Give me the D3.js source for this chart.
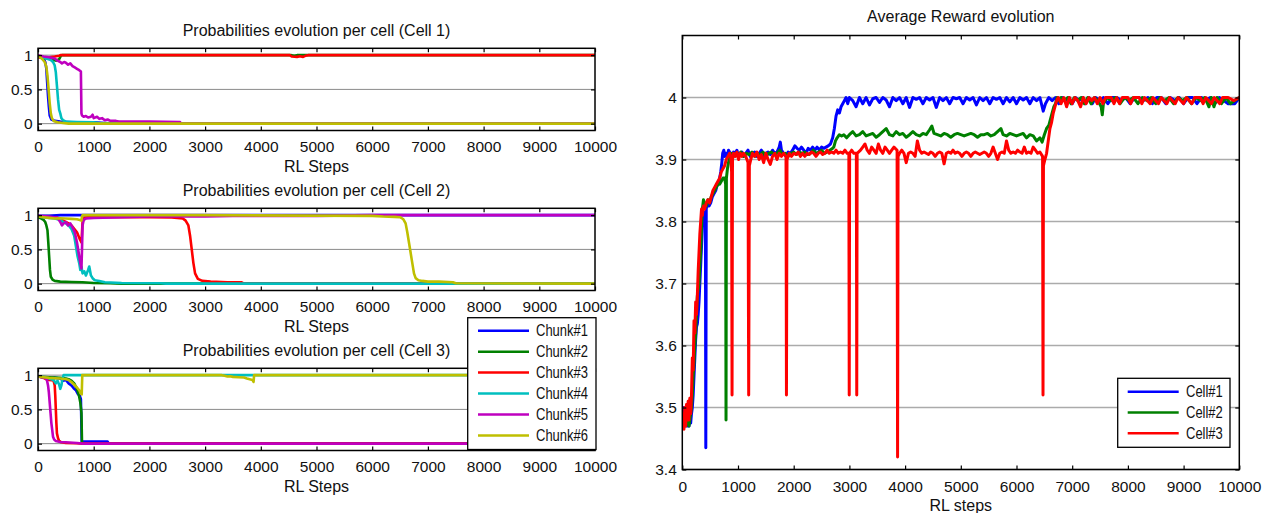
<!DOCTYPE html>
<html><head><meta charset="utf-8">
<script src="https://cdn.jsdelivr.net/npm/d3@7"></script>
<style>
html,body{margin:0;padding:0;background:#fff;}
svg text{font-family:"Liberation Sans",Arial,sans-serif;fill:#111;}
</style></head><body>
<svg id="chart" width="1276" height="513"></svg>
<script>
// ---------- categories / labels ----------
const stepTicks = [0,1000,2000,3000,4000,5000,6000,7000,8000,9000,10000];
const probTicks = [0,0.5,1];
const rewardTicks = [3.4,3.5,3.6,3.7,3.8,3.9,4.0];
const chunkNames = ["Chunk#1","Chunk#2","Chunk#3","Chunk#4","Chunk#5","Chunk#6"];
const chunkColors = ["#0000ff","#008000","#ff0000","#00bfbf","#bf00bf","#bfbf00"];
const cellNames = ["Cell#1","Cell#2","Cell#3"];
const cellColors = ["#0000ff","#008000","#ff0000"];
const probTitles = ["Probabilities evolution per cell (Cell 1)","Probabilities evolution per cell (Cell 2)","Probabilities evolution per cell (Cell 3)"];
const rewardTitle = "Average Reward evolution";
const probXLabel = "RL Steps";
const rewardXLabel = "RL steps";

// ---------- series values: flat [step, value, step, value, ...] ----------
// Cell 1
const cell1Chunk1 = [0,0.99,60,0.97,100,0.95,130,0.9,150,0.8,165,0.6,180,0.4,195,0.25,210,0.12,240,0.06,300,0.04,400,0.03,600,0.02,1000,0.02,1200,0.01,1400,0,10000,0];
const cell1Chunk2 = [0,0.98,100,0.96,200,0.95,280,0.93,330,0.92,380,0.94,410,0.99,430,1,4550,1,4600,0.99,4650,1,10000,1];
const cell1Chunk3 = [0,0.97,100,0.96,200,0.97,300,0.98,380,0.99,400,1,4520,1,4560,0.98,4650,0.975,4700,0.985,4760,0.975,4800,0.99,4850,1,10000,1];
const cell1Chunk4 = [0,0.99,80,0.97,150,0.95,230,0.93,270,0.9,300,0.85,320,0.75,340,0.55,360,0.35,380,0.2,400,0.15,420,0.08,450,0.05,500,0.03,700,0.025,1000,0.02,1100,0.01,1300,0,10000,0];
const cell1Chunk5 = [0,1,100,0.98,200,0.97,300,0.95,350,0.92,400,0.9,430,0.88,470,0.9,500,0.89,540,0.86,580,0.88,620,0.84,660,0.82,700,0.8,740,0.78,770,0.76,780,0.15,790,0.12,820,0.1,860,0.11,900,0.09,950,0.1,980,0.13,1000,0.08,1060,0.1,1100,0.07,1150,0.08,1200,0.05,1250,0.06,1300,0.04,1400,0.04,1450,0.03,1600,0.03,2000,0.03,2550,0.025,2560,0,10000,0];
const cell1Chunk6 = [0,0.99,40,0.97,80,0.94,120,0.9,150,0.83,170,0.7,190,0.5,210,0.3,230,0.15,250,0.08,280,0.04,350,0.02,450,0.01,550,0,10000,0];
// Cell 2
const cell2Chunk1 = [0,0.99,200,0.99,400,1,10000,1];
const cell2Chunk2 = [0,0.97,60,0.95,100,0.93,130,0.9,150,0.85,170,0.78,185,0.6,200,0.4,215,0.2,230,0.1,260,0.06,300,0.04,400,0.03,600,0.025,800,0.02,1000,0.01,1300,0.005,1500,0,10000,0];
const cell2Chunk3 = [0,0.98,200,0.97,350,0.96,400,0.93,450,0.92,500,0.9,550,0.88,600,0.85,650,0.8,700,0.75,750,0.65,780,0.6,800,0.9,830,0.96,900,0.97,2000,0.97,2400,0.965,2500,0.96,2600,0.95,2650,0.92,2700,0.85,2730,0.7,2760,0.5,2790,0.3,2820,0.15,2870,0.07,2950,0.04,3100,0.03,3400,0.02,3650,0.02,3700,0,10000,0];
const cell2Chunk4 = [0,0.98,100,0.97,200,0.96,300,0.95,400,0.93,450,0.9,500,0.88,550,0.85,600,0.8,650,0.7,680,0.55,710,0.4,740,0.3,760,0.2,780,0.25,800,0.15,830,0.18,860,0.12,900,0.2,920,0.25,950,0.12,980,0.08,1020,0.05,1100,0.04,1200,0.02,1500,0.01,2200,0.005,2300,0,10000,0];
const cell2Chunk5 = [0,0.99,200,0.98,350,0.96,400,0.9,430,0.85,460,0.88,500,0.9,540,0.85,580,0.88,620,0.82,660,0.75,700,0.6,730,0.45,760,0.3,780,0.22,790,0.5,800,0.85,820,0.93,860,0.95,1000,0.96,1500,0.97,2000,0.98,3000,0.98,3500,0.99,5000,0.99,6000,1,10000,1];
const cell2Chunk6 = [0,0.98,100,0.97,200,0.96,300,0.95,400,0.955,500,0.95,600,0.945,700,0.94,750,0.93,780,0.92,790,0.98,800,1,3000,1,6000,0.99,6200,0.98,6400,0.975,6500,0.97,6560,0.94,6600,0.88,6630,0.75,6660,0.6,6690,0.45,6720,0.3,6750,0.15,6780,0.08,6830,0.05,6900,0.04,7000,0.03,7200,0.03,7450,0.02,7500,0.005,10000,0];
// Cell 3
const cell3Chunk1 = [0,0.98,100,0.97,200,0.96,300,0.96,400,0.95,450,0.92,500,0.93,550,0.88,600,0.85,630,0.82,650,0.8,680,0.78,700,0.75,720,0.72,750,0.7,770,0.65,785,0.03,800,0.03,1000,0.03,1250,0.03,1270,0,10000,0];
const cell3Chunk2 = [0,0.98,200,0.97,400,0.96,500,0.95,550,0.94,600,0.92,650,0.88,700,0.8,730,0.72,760,0.6,780,0.45,790,0.02,800,0,10000,0];
const cell3Chunk3 = [0,0.98,100,0.96,150,0.94,200,0.93,250,0.925,280,0.92,300,0.85,310,0.7,320,0.5,330,0.3,340,0.15,360,0.08,380,0.04,420,0.02,500,0.01,700,0.005,800,0,10000,0];
const cell3Chunk4 = [0,0.98,100,0.97,200,0.95,280,0.93,320,0.88,350,0.92,380,0.86,400,0.8,420,0.85,440,0.95,460,1,10000,1];
const cell3Chunk5 = [0,0.98,80,0.97,130,0.96,160,0.93,180,0.85,195,0.75,210,0.6,225,0.45,240,0.3,255,0.2,270,0.1,290,0.06,320,0.04,400,0.025,500,0.02,700,0.01,800,0,10000,0];
const cell3Chunk6 = [0,0.98,100,0.97,200,0.96,300,0.955,400,0.95,500,0.94,550,0.93,600,0.9,650,0.86,700,0.82,740,0.78,770,0.73,785,0.72,795,1,3300,1,3350,0.99,3400,0.98,3450,0.985,3500,0.975,3600,0.97,3700,0.965,3750,0.95,3800,0.94,3850,0.93,3870,0.9,3880,1,10000,1];

// Average reward per cell
const rewardCell1 = [0,3.49,15,3.5,30,3.48,45,3.495,60,3.475,75,3.49,90,3.47,105,3.485,120,3.47,135,3.48,150,3.475,165,3.49,180,3.5,195,3.52,210,3.55,225,3.58,240,3.61,255,3.63,270,3.635,285,3.65,300,3.67,315,3.7,330,3.73,345,3.76,360,3.79,375,3.81,390,3.815,405,3.81,415,3.8,422,3.435,430,3.82,450,3.83,480,3.825,510,3.83,540,3.84,570,3.845,600,3.85,630,3.86,660,3.865,690,3.88,710,3.895,725,3.91,745,3.915,760,3.905,780,3.91,800,3.905,830,3.915,860,3.91,890,3.905,920,3.912,950,3.91,980,3.915,1010,3.905,1040,3.91,1070,3.912,1100,3.905,1140,3.91,1180,3.915,1220,3.905,1260,3.91,1300,3.912,1340,3.905,1380,3.91,1420,3.915,1460,3.905,1500,3.91,1540,3.912,1580,3.908,1620,3.915,1660,3.91,1700,3.912,1740,3.92,1760,3.928,1780,3.915,1820,3.91,1860,3.905,1900,3.912,1940,3.91,1980,3.915,2020,3.922,2060,3.918,2100,3.915,2140,3.92,2180,3.915,2220,3.91,2260,3.918,2300,3.915,2340,3.92,2380,3.915,2420,3.92,2460,3.915,2500,3.92,2540,3.918,2580,3.92,2620,3.922,2660,3.925,2700,3.935,2730,3.95,2760,3.97,2790,3.98,2820,3.975,2850,3.985,2880,3.99,2910,3.995,2940,4,2970,3.99,3000,4,3060,3.995,3120,3.985,3180,4,3240,3.99,3300,4,3360,3.988,3420,3.998,3480,4,3540,3.992,3600,4,3660,3.996,3720,3.985,3780,4,3840,3.995,3900,4,3960,3.99,4020,4,4080,3.984,4140,4,4200,3.997,4260,4,4320,3.99,4380,4,4440,3.996,4500,4,4560,3.984,4620,4,4680,3.995,4740,4,4800,3.99,4860,4,4920,3.998,4980,4,5040,3.99,5100,4,5160,3.996,5220,4,5280,3.988,5340,4,5400,3.995,5460,4,5520,3.99,5580,4,5640,3.997,5700,4,5760,3.99,5820,4,5880,3.993,5940,4,6000,3.99,6060,4,6120,3.996,6180,4,6240,3.99,6300,4,6360,3.995,6420,4,6480,3.978,6520,3.99,6580,4,6640,3.995,6700,4,6760,3.99,6820,4,6880,3.995,6940,4,7000,3.99,7060,4,7120,3.995,7180,4,7240,3.99,7300,4,7360,3.99,7420,4,7500,3.995,7560,4,7640,3.99,7720,4,7800,4,7880,3.995,7960,4,8040,3.99,8120,4,8200,4,8280,3.995,8360,4,8440,3.99,8520,4,8600,4,8680,3.99,8760,4,8840,3.995,8920,4,9000,3.99,9080,4,9160,4,9240,3.99,9320,4,9400,3.995,9480,4,9560,3.99,9640,4,9720,3.995,9800,3.99,9860,3.99,9920,3.99,9960,3.995,10000,4];
const rewardCell2 = [0,3.48,15,3.49,30,3.475,45,3.485,60,3.47,75,3.48,90,3.475,105,3.49,120,3.47,135,3.48,150,3.49,165,3.5,180,3.52,195,3.55,210,3.57,225,3.6,240,3.62,255,3.65,270,3.68,285,3.69,300,3.7,315,3.73,330,3.75,345,3.79,360,3.82,380,3.835,400,3.83,430,3.825,460,3.835,490,3.83,520,3.84,550,3.845,580,3.85,610,3.855,640,3.86,670,3.86,700,3.865,730,3.87,760,3.87,778,3.86,785,3.48,792,3.87,810,3.885,830,3.895,850,3.905,880,3.91,920,3.905,960,3.91,1000,3.905,1050,3.912,1100,3.905,1150,3.91,1200,3.908,1250,3.912,1300,3.905,1350,3.91,1400,3.908,1450,3.912,1500,3.905,1550,3.91,1600,3.912,1650,3.908,1700,3.91,1750,3.915,1800,3.908,1850,3.91,1900,3.905,1950,3.91,2000,3.912,2050,3.908,2100,3.912,2150,3.91,2200,3.912,2250,3.908,2300,3.91,2350,3.915,2400,3.91,2450,3.912,2500,3.915,2550,3.91,2600,3.912,2650,3.915,2700,3.918,2720,3.92,2750,3.93,2780,3.935,2820,3.94,2860,3.938,2900,3.94,2950,3.935,3000,3.94,3060,3.945,3120,3.938,3180,3.94,3240,3.945,3300,3.938,3360,3.94,3420,3.942,3480,3.936,3540,3.94,3600,3.945,3660,3.95,3720,3.94,3780,3.938,3840,3.945,3900,3.94,3960,3.942,4020,3.936,4080,3.94,4140,3.945,4200,3.94,4260,3.938,4320,3.942,4380,3.94,4440,3.948,4480,3.954,4520,3.942,4580,3.94,4640,3.938,4700,3.942,4760,3.94,4820,3.936,4880,3.94,4940,3.942,5000,3.94,5060,3.938,5120,3.94,5180,3.942,5240,3.94,5300,3.936,5360,3.94,5420,3.94,5480,3.942,5540,3.938,5600,3.94,5660,3.945,5720,3.95,5760,3.94,5820,3.938,5880,3.942,5940,3.94,6000,3.938,6060,3.94,6120,3.942,6180,3.935,6240,3.94,6300,3.938,6360,3.93,6420,3.935,6460,3.928,6500,3.94,6540,3.95,6580,3.955,6610,3.965,6640,3.975,6670,3.985,6700,3.99,6730,4,6760,3.995,6800,4,6860,3.995,6920,4,6980,3.99,7040,4,7100,3.995,7160,4,7220,3.99,7280,4,7340,3.99,7400,4,7460,3.995,7520,3.985,7540,3.972,7560,3.99,7620,4,7700,3.995,7780,4,7860,3.99,7940,4,8020,3.995,8100,4,8180,3.99,8260,4,8340,3.995,8420,4,8500,3.99,8580,4,8660,3.995,8740,4,8820,3.99,8900,4,8980,3.995,9060,4,9140,3.99,9220,4,9300,3.995,9380,4,9455,3.985,9500,4,9545,3.985,9600,4,9680,3.99,9760,4,9840,3.99,9920,3.995,10000,4];
const rewardCell3 = [0,3.47,15,3.49,30,3.465,45,3.5,60,3.47,75,3.505,90,3.48,105,3.51,120,3.48,135,3.515,150,3.49,165,3.52,180,3.58,195,3.56,210,3.64,225,3.62,240,3.67,255,3.65,270,3.68,285,3.72,300,3.75,315,3.78,330,3.8,345,3.82,360,3.81,380,3.825,400,3.82,430,3.83,460,3.835,490,3.83,520,3.84,550,3.85,580,3.855,610,3.86,640,3.865,670,3.87,700,3.88,730,3.885,760,3.89,790,3.9,820,3.905,850,3.91,870,3.905,885,3.88,893,3.52,901,3.9,920,3.91,950,3.905,980,3.912,1010,3.9,1040,3.91,1070,3.905,1100,3.91,1140,3.905,1180,3.895,1192,3.52,1204,3.89,1230,3.9,1260,3.91,1300,3.905,1340,3.912,1380,3.9,1420,3.908,1460,3.895,1500,3.91,1540,3.9,1580,3.892,1620,3.905,1660,3.91,1700,3.9,1740,3.91,1780,3.905,1820,3.91,1862,3.905,1870,3.52,1880,3.9,1920,3.91,1960,3.905,2000,3.91,2040,3.908,2080,3.912,2120,3.905,2160,3.91,2200,3.905,2240,3.91,2280,3.908,2320,3.912,2360,3.91,2400,3.905,2440,3.91,2480,3.912,2520,3.908,2560,3.91,2600,3.915,2640,3.91,2680,3.912,2720,3.91,2760,3.915,2800,3.91,2840,3.912,2880,3.91,2920,3.915,2960,3.91,2990,3.91,2997,3.52,3004,3.91,3040,3.915,3080,3.91,3125,3.91,3132,3.52,3139,3.91,3200,3.915,3240,3.92,3280,3.925,3320,3.915,3360,3.91,3400,3.92,3440,3.915,3480,3.91,3520,3.925,3560,3.915,3600,3.91,3640,3.92,3680,3.915,3720,3.91,3760,3.915,3800,3.92,3856,3.915,3865,3.42,3874,3.905,3900,3.91,3940,3.915,3980,3.91,4020,3.895,4060,3.91,4100,3.912,4140,3.91,4180,3.905,4220,3.93,4260,3.915,4300,3.91,4340,3.912,4380,3.91,4420,3.908,4460,3.912,4500,3.91,4540,3.905,4580,3.91,4620,3.912,4660,3.91,4700,3.893,4740,3.91,4780,3.912,4820,3.91,4860,3.915,4900,3.91,4940,3.912,4980,3.91,5020,3.905,5060,3.91,5100,3.912,5140,3.91,5180,3.905,5220,3.91,5260,3.912,5300,3.91,5340,3.908,5380,3.91,5420,3.912,5460,3.91,5500,3.905,5540,3.91,5580,3.92,5620,3.91,5660,3.9,5700,3.91,5740,3.912,5780,3.91,5820,3.93,5860,3.915,5900,3.91,5940,3.912,5980,3.91,6020,3.915,6060,3.912,6100,3.91,6140,3.92,6180,3.91,6220,3.912,6260,3.91,6300,3.92,6340,3.915,6380,3.91,6420,3.912,6468,3.905,6476,3.52,6484,3.89,6510,3.9,6540,3.91,6570,3.93,6600,3.95,6630,3.96,6660,3.975,6690,3.985,6720,3.995,6750,4,6800,3.99,6850,4,6900,3.985,6950,4,7000,3.99,7050,4,7100,3.995,7150,3.985,7200,4,7250,3.99,7300,4,7350,3.995,7400,4,7450,3.99,7500,4,7550,3.99,7600,4,7700,4,7750,3.99,7800,4,7850,3.99,7900,4,8000,4,8050,3.99,8100,4,8200,4,8250,3.99,8300,4,8400,3.99,8450,4,8550,3.99,8600,4,8700,3.99,8750,4,8850,3.99,8900,4,9000,3.99,9050,4,9150,3.99,9200,4,9300,4,9350,3.99,9400,4,9500,3.99,9550,4,9650,3.99,9700,4,9800,4,9900,3.995,10000,4];

// tables built from the arrays above
const pairs = a => { const r = []; for (let i = 0; i < a.length; i += 2) r.push([a[i], a[i+1]]); return r; };
const probSeries = [
  [cell1Chunk1,cell1Chunk2,cell1Chunk3,cell1Chunk4,cell1Chunk5,cell1Chunk6],
  [cell2Chunk1,cell2Chunk2,cell2Chunk3,cell2Chunk4,cell2Chunk5,cell2Chunk6],
  [cell3Chunk1,cell3Chunk2,cell3Chunk3,cell3Chunk4,cell3Chunk5,cell3Chunk6]
].map(c => c.map(pairs));
const rewardSeries = [rewardCell1, rewardCell2, rewardCell3].map(pairs);

// ---------- drawing ----------
const svg = d3.select("#chart");
const TICK_FS = 15.5, TITLE_FS = 16;
const fmt = v => String(+v.toFixed(2));

function drawPanel(cfg) {
  const {x, y, yTicks, yLabelTicks, title, xLabel, series, colors, lw, gridColor, gridW, id, tickPadX, titleOff, labelOff} = cfg;
  const [x0, x1] = x.range();
  const [yb, yt] = y.range();
  const g = svg.append("g");
  svg.append("defs").append("clipPath").attr("id", id)
    .append("rect").attr("x", x0).attr("y", yt).attr("width", x1 - x0).attr("height", yb - yt);
  g.append("g").selectAll("line").data(yTicks).join("line")
    .attr("x1", x0).attr("x2", x1).attr("y1", d => y(d)).attr("y2", d => y(d))
    .attr("stroke", gridColor).attr("stroke-width", gridW);
  const line = d3.line().x(d => x(d[0])).y(d => y(d[1]));
  g.append("g").attr("clip-path", `url(#${id})`).selectAll("path").data(series).join("path")
    .attr("d", line).attr("fill", "none").attr("stroke", (d, i) => colors[i])
    .attr("stroke-width", lw).attr("stroke-linejoin", "round").attr("stroke-linecap", "round");
  const ax = (sel) => { sel.select(".domain").remove(); sel.selectAll("line").attr("stroke", "#000").attr("stroke-width", 1.2); sel.selectAll("text").attr("font-size", TICK_FS).attr("font-family", null).attr("fill", "#111"); };
  g.append("g").attr("transform", `translate(0,${yb})`)
    .call(d3.axisBottom(x).tickValues(stepTicks).tickSizeInner(-4).tickSizeOuter(0).tickPadding(tickPadX).tickFormat(d3.format("d"))).call(ax);
  g.append("g").attr("transform", `translate(0,${yt})`)
    .call(d3.axisTop(x).tickValues(stepTicks).tickSizeInner(-4).tickSizeOuter(0).tickFormat("")).call(ax);
  g.append("g").attr("transform", `translate(${x0},0)`)
    .call(d3.axisLeft(y).tickValues(yLabelTicks).tickSizeInner(-4).tickSizeOuter(0).tickPadding(5.5).tickFormat(fmt)).call(ax);
  g.append("g").attr("transform", `translate(${x1},0)`)
    .call(d3.axisRight(y).tickValues(yLabelTicks).tickSizeInner(-4).tickSizeOuter(0).tickFormat("")).call(ax);
  g.append("rect").attr("x", x0).attr("y", yt).attr("width", x1 - x0).attr("height", yb - yt)
    .attr("fill", "none").attr("stroke", "#000").attr("stroke-width", 1.5);
  const cx = (x0 + x1) / 2;
  g.append("text").attr("x", cx).attr("y", yt - titleOff).attr("dy", "0.35em").attr("text-anchor", "middle").attr("font-size", TITLE_FS).text(title);
  g.append("text").attr("x", cx).attr("y", yb + labelOff).attr("dy", "0.35em").attr("text-anchor", "middle").attr("font-size", TITLE_FS).text(xLabel);
}

const leftX = d3.scaleLinear().domain([0, 10000]).range([38, 595]);
const panelTops = [48.3, 208.3, 368.3];
const panelH = 82.2;
panelTops.forEach((top, i) => {
  const y = d3.scaleLinear().domain([-0.1, 1.1]).range([top + panelH, top]);
  drawPanel({x: leftX, y, yTicks: probTicks, yLabelTicks: probTicks, title: probTitles[i], xLabel: probXLabel,
    series: probSeries[i], colors: chunkColors, lw: 2.6, gridColor: "#8a8a8a", gridW: 1, id: "clipP" + i,
    tickPadX: 10.5, titleOff: 17.5, labelOff: 36});
});

const rightX = d3.scaleLinear().domain([0, 10000]).range([682.3, 1239.3]);
const rightY = d3.scaleLinear().domain([3.4, 4.1]).range([469.5, 35.5]);
drawPanel({x: rightX, y: rightY, yTicks: rewardTicks, yLabelTicks: rewardTicks, title: rewardTitle, xLabel: rewardXLabel,
  series: rewardSeries, colors: cellColors, lw: 3, gridColor: "#ababab", gridW: 1.3, id: "clipR",
  tickPadX: 11.5, titleOff: 19, labelOff: 36});

// ---------- legends ----------
function legend(box, names, colors, lineX, textX, rowY, lw) {
  const g = svg.append("g");
  g.append("rect").attr("x", box[0]).attr("y", box[1]).attr("width", box[2] - box[0]).attr("height", box[3] - box[1])
    .attr("fill", "#fff").attr("stroke", "#000").attr("stroke-width", 1.3);
  const rows = g.selectAll("g.row").data(names).join("g").attr("class", "row");
  rows.append("line").attr("x1", lineX[0]).attr("x2", lineX[1]).attr("y1", (d, i) => rowY[i]).attr("y2", (d, i) => rowY[i])
    .attr("stroke", (d, i) => colors[i]).attr("stroke-width", lw);
  rows.append("text").attr("transform", (d, i) => `translate(${textX},${rowY[i]}) scale(1,1.2)`)
    .attr("dy", "0.35em").attr("font-size", 13).text(d => d);
}
legend([467.7, 317.7, 596, 449.5], chunkNames, chunkColors, [478, 529], 536, [330.7, 351.7, 372.5, 393.5, 414.5, 435.5], 2.4);
legend([1117.7, 378.3, 1230, 447.3], cellNames, cellColors, [1127.7, 1178.7], 1186, [391.7, 412.5, 433.3], 2.6);
</script>
</body></html>
